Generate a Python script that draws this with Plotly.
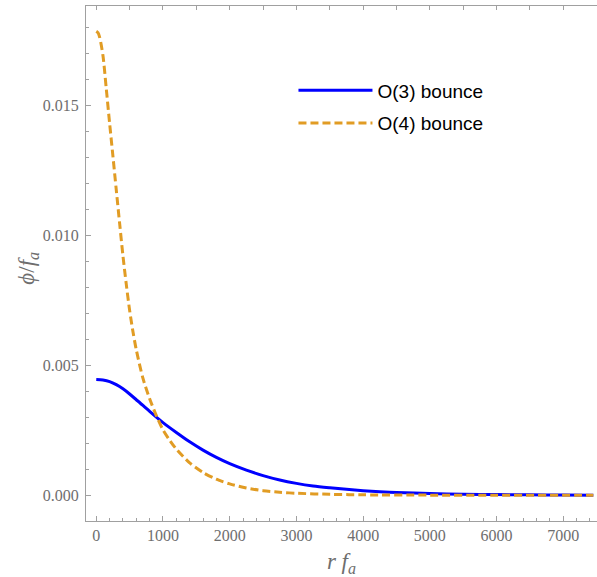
import plotly.graph_objects as go

# O(3) bounce profile
r_o3 = [0, 100, 200, 300, 400, 500, 600, 700, 800, 900, 1000, 1200, 1400, 1600, 1800, 2000,
        2250, 2500, 2750, 3000, 3250, 3500, 3750, 4000, 4250, 4500, 5000, 5500, 6000,
        6500, 7000, 7450]
phi_o3 = [0.00446, 0.00444, 0.00438, 0.00426, 0.00410, 0.00390, 0.00368, 0.00346,
          0.00323, 0.00301, 0.00280, 0.00242, 0.00206, 0.00174, 0.00146, 0.00122,
          0.00097, 0.00076, 0.00059, 0.00046, 0.00036, 0.00029, 0.00023, 0.00018,
          0.00014, 0.00011, 0.00007, 0.000045, 0.00003, 0.00002, 0.000012, 0.000008]

# O(4) bounce profile
r_o4 = [0, 25, 50, 100, 150, 200, 250, 300, 350, 400, 450, 500, 550, 600, 700, 800, 900,
        1000, 1100, 1200, 1400, 1600, 1800, 2000, 2250, 2500, 2750, 3000, 3500, 4000,
        5000, 6000, 7450]
phi_o4 = [0.01786, 0.01781, 0.01764, 0.01693, 0.01565, 0.01432, 0.01305, 0.01175,
          0.01047, 0.00922, 0.00812, 0.00712, 0.00630, 0.00560, 0.00450, 0.00372,
          0.00307, 0.00252, 0.00212, 0.00178, 0.00125, 0.00088, 0.00062, 0.00044,
          0.00028, 0.00018, 0.00012, 0.00008, 0.00004, 0.00002, 0.000008, 0.000003,
          0.000001]

names = ["O(3) bounce", "O(4) bounce"]
x_ticks = [0, 1000, 2000, 3000, 4000, 5000, 6000, 7000]
y_ticks = [0.0, 0.005, 0.010, 0.015]
y_labels = ["0.000", "0.005", "0.010", "0.015"]

frame = "#a0a0a0"
label_col = "#6e6e6e"
serif = "Liberation Serif, Times New Roman, serif"

fig = go.Figure()
fig.add_trace(go.Scatter(x=r_o3, y=phi_o3, mode="lines", name=names[0],
                         line=dict(color="#0000ff", width=3, shape="spline", smoothing=0.8),
                         legendgroup="a"))
fig.add_trace(go.Scatter(x=r_o4, y=phi_o4, mode="lines", name=names[1],
                         line=dict(color="#e19c24", width=3, dash="8px,4px", shape="spline", smoothing=0.8),
                         legendgroup="b"))

xr = [-154, 7505]
fig.update_layout(
    width=597, height=577,
    margin=dict(l=86, r=0, t=6, b=56),
    plot_bgcolor="white", paper_bgcolor="white",
    showlegend=True,
    legend=dict(x=0.406, y=0.873, xanchor="left", yanchor="top",
                font=dict(family="Liberation Sans, Arial, sans-serif", size=19, color="black"),
                bgcolor="rgba(0,0,0,0)", tracegroupgap=5, itemwidth=74),
    xaxis=dict(range=xr, tickvals=x_ticks, ticks="inside", ticklen=5, tickwidth=1,
               tickcolor=frame, showline=True, linecolor=frame, linewidth=1.2,
               showgrid=False, zeroline=False, automargin=False,
               minor=dict(dtick=200, tick0=0, ticks="inside", ticklen=3, tickcolor=frame, showgrid=False),
               tickfont=dict(family=serif, size=16, color=label_col),
               title=dict(text="<i>r f</i><sub><i>a</i></sub>",
                          font=dict(family=serif, size=23, color=label_col))),
    xaxis2=dict(range=xr, overlaying="x", side="top", matches="x", dtick=500, tick0=0,
                ticks="inside", ticklen=4, tickcolor=frame, showticklabels=False, automargin=False,
                showline=True, linecolor=frame, linewidth=1.2, showgrid=False, zeroline=False),
    yaxis=dict(range=[-0.000988, 0.018838], tickvals=y_ticks, ticktext=y_labels,
               ticks="inside", ticklen=5, tickcolor=frame, showline=True, linecolor=frame,
               linewidth=1.2, showgrid=False, zeroline=False, automargin=False,
               ticklabelstandoff=3,
               minor=dict(dtick=0.001, tick0=0, ticks="inside", ticklen=3, tickcolor=frame, showgrid=False),
               tickfont=dict(family=serif, size=16, color=label_col)),
    annotations=[dict(text="<i>ϕ</i>/<i>f</i><sub><i>a</i></sub>", xref="paper", yref="paper",
                      x=-0.1135, y=0.49, xanchor="center", yanchor="middle", textangle=-90,
                      showarrow=False, font=dict(family=serif, size=23, color=label_col))],
)
# invisible trace to anchor the top axis
fig.add_trace(go.Scatter(x=[0], y=[0], xaxis="x2", mode="markers", marker=dict(opacity=0),
                         showlegend=False, hoverinfo="skip"))

fig.write_html("out.html", config={"displayModeBar": False},
               post_script="document.body.style.margin='0';document.body.style.overflow='hidden';")
